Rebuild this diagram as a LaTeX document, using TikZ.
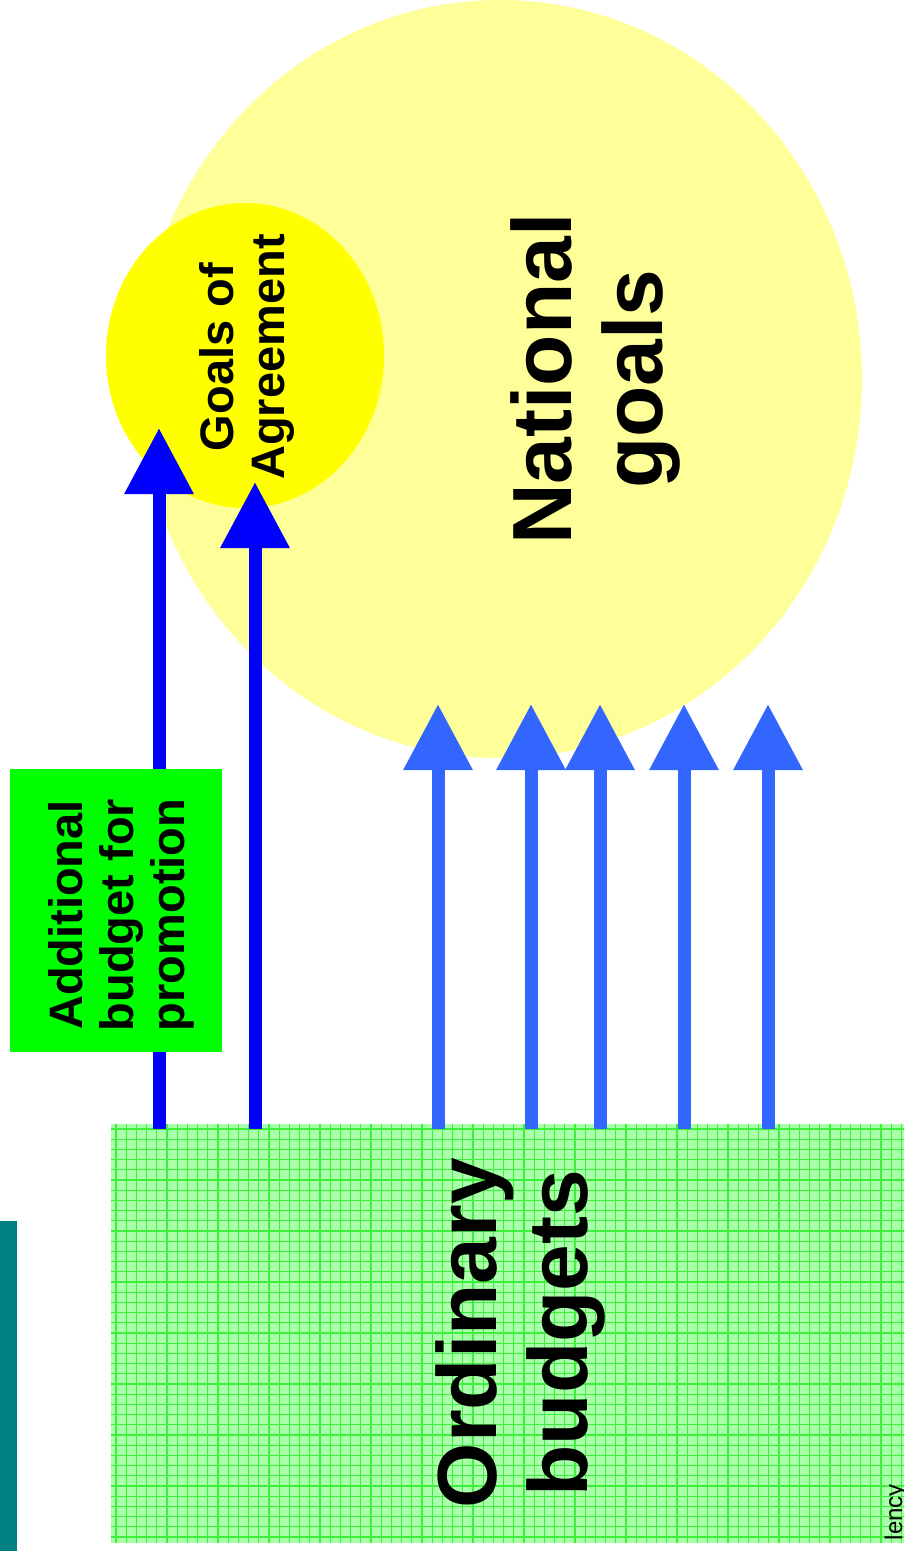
\documentclass[tikz,border=0pt]{standalone}
\usepackage{fontspec}
\setmainfont{Liberation Sans}
\usetikzlibrary{arrows.meta}
\definecolor{paleyellow}{RGB}{255,255,153}
\definecolor{goalyellow}{RGB}{255,255,0}
\definecolor{darkblue}{RGB}{0,0,255}
\definecolor{lightblue}{RGB}{51,102,255}
\definecolor{promogreen}{RGB}{0,255,0}
\definecolor{gridfill}{RGB}{170,255,170}
\definecolor{gridline}{RGB}{60,240,60}
\definecolor{barteal}{RGB}{0,128,128}

\begin{document}
\begin{tikzpicture}[x=1pt,y=-1pt,
    bigtext/.style={rotate=90, align=center, inner sep=0pt, font=\fontsize{84}{91}\selectfont\bfseries},
    smalltext/.style={rotate=90, align=center, inner sep=0pt, font=\fontsize{47}{51}\selectfont\bfseries},
    budgetarrow/.style={line width=13pt, -{Triangle[length=66pt,width=66pt]}}]
            \useasboundingbox (0,0) rectangle (904,1551);

            % goals
            \fill[paleyellow] (500,379) ellipse [x radius=362pt, y radius=379pt];
            \fill[goalyellow] (245,355.5) ellipse [x radius=139pt, y radius=152.5pt];
            \node[bigtext] (natgoals) at (595,379) {National\\goals};
            \node[smalltext] (agrgoals) at (247,357) {Goals of\\Agreement};

            % ordinary budgets
            \fill[gridfill] (111,1124) rectangle (904,1543);
            \foreach \i in {0,...,77} {\draw[gridline, line width=1.2pt] ({116+10.2*\i},1124) -- ({116+10.2*\i},1543);}
            \foreach \j in {0,...,40} {\draw[gridline, line width=1.2pt] (111,{1129+10.2*\j}) -- (904,{1129+10.2*\j});}
            \node[bigtext] (ordbudgets) at (520,1333) {Ordinary\\budgets};
            \fill[barteal] (0,1221) rectangle (17,1551);
            \node[rotate=90, anchor=base east, inner sep=0pt, font=\fontsize{24}{28}\selectfont] (agency) at (902,1484) {lency};

            % arrows
            \coordinate (o1) at (159,1129);
            \coordinate (o2) at (255,1129);
            \coordinate (o3) at (438,1129);
            \coordinate (o4) at (531,1129);
            \coordinate (o5) at (600,1129);
            \coordinate (o6) at (684,1129);
            \coordinate (o7) at (768,1129);
            \coordinate (g1) at (159,428);
            \coordinate (g2) at (255,482);
            \coordinate (g3) at (438,704);
            \coordinate (g4) at (531,704);
            \coordinate (g5) at (600,704);
            \coordinate (g6) at (684,704);
            \coordinate (g7) at (768,704);
            \draw[budgetarrow, darkblue] (o1) -- (g1);
            \draw[budgetarrow, darkblue] (o2) -- (g2);
            \draw[budgetarrow, lightblue] (o3) -- (g3);
            \draw[budgetarrow, lightblue] (o4) -- (g4);
            \draw[budgetarrow, lightblue] (o5) -- (g5);
            \draw[budgetarrow, lightblue] (o6) -- (g6);
            \draw[budgetarrow, lightblue] (o7) -- (g7);

            % additional budget
            \fill[promogreen] (10,769) rectangle (222,1052);
            \node[smalltext] (addbudget) at (121,915) {Additional\\budget for\\promotion};

        \end{tikzpicture}
\end{document}
